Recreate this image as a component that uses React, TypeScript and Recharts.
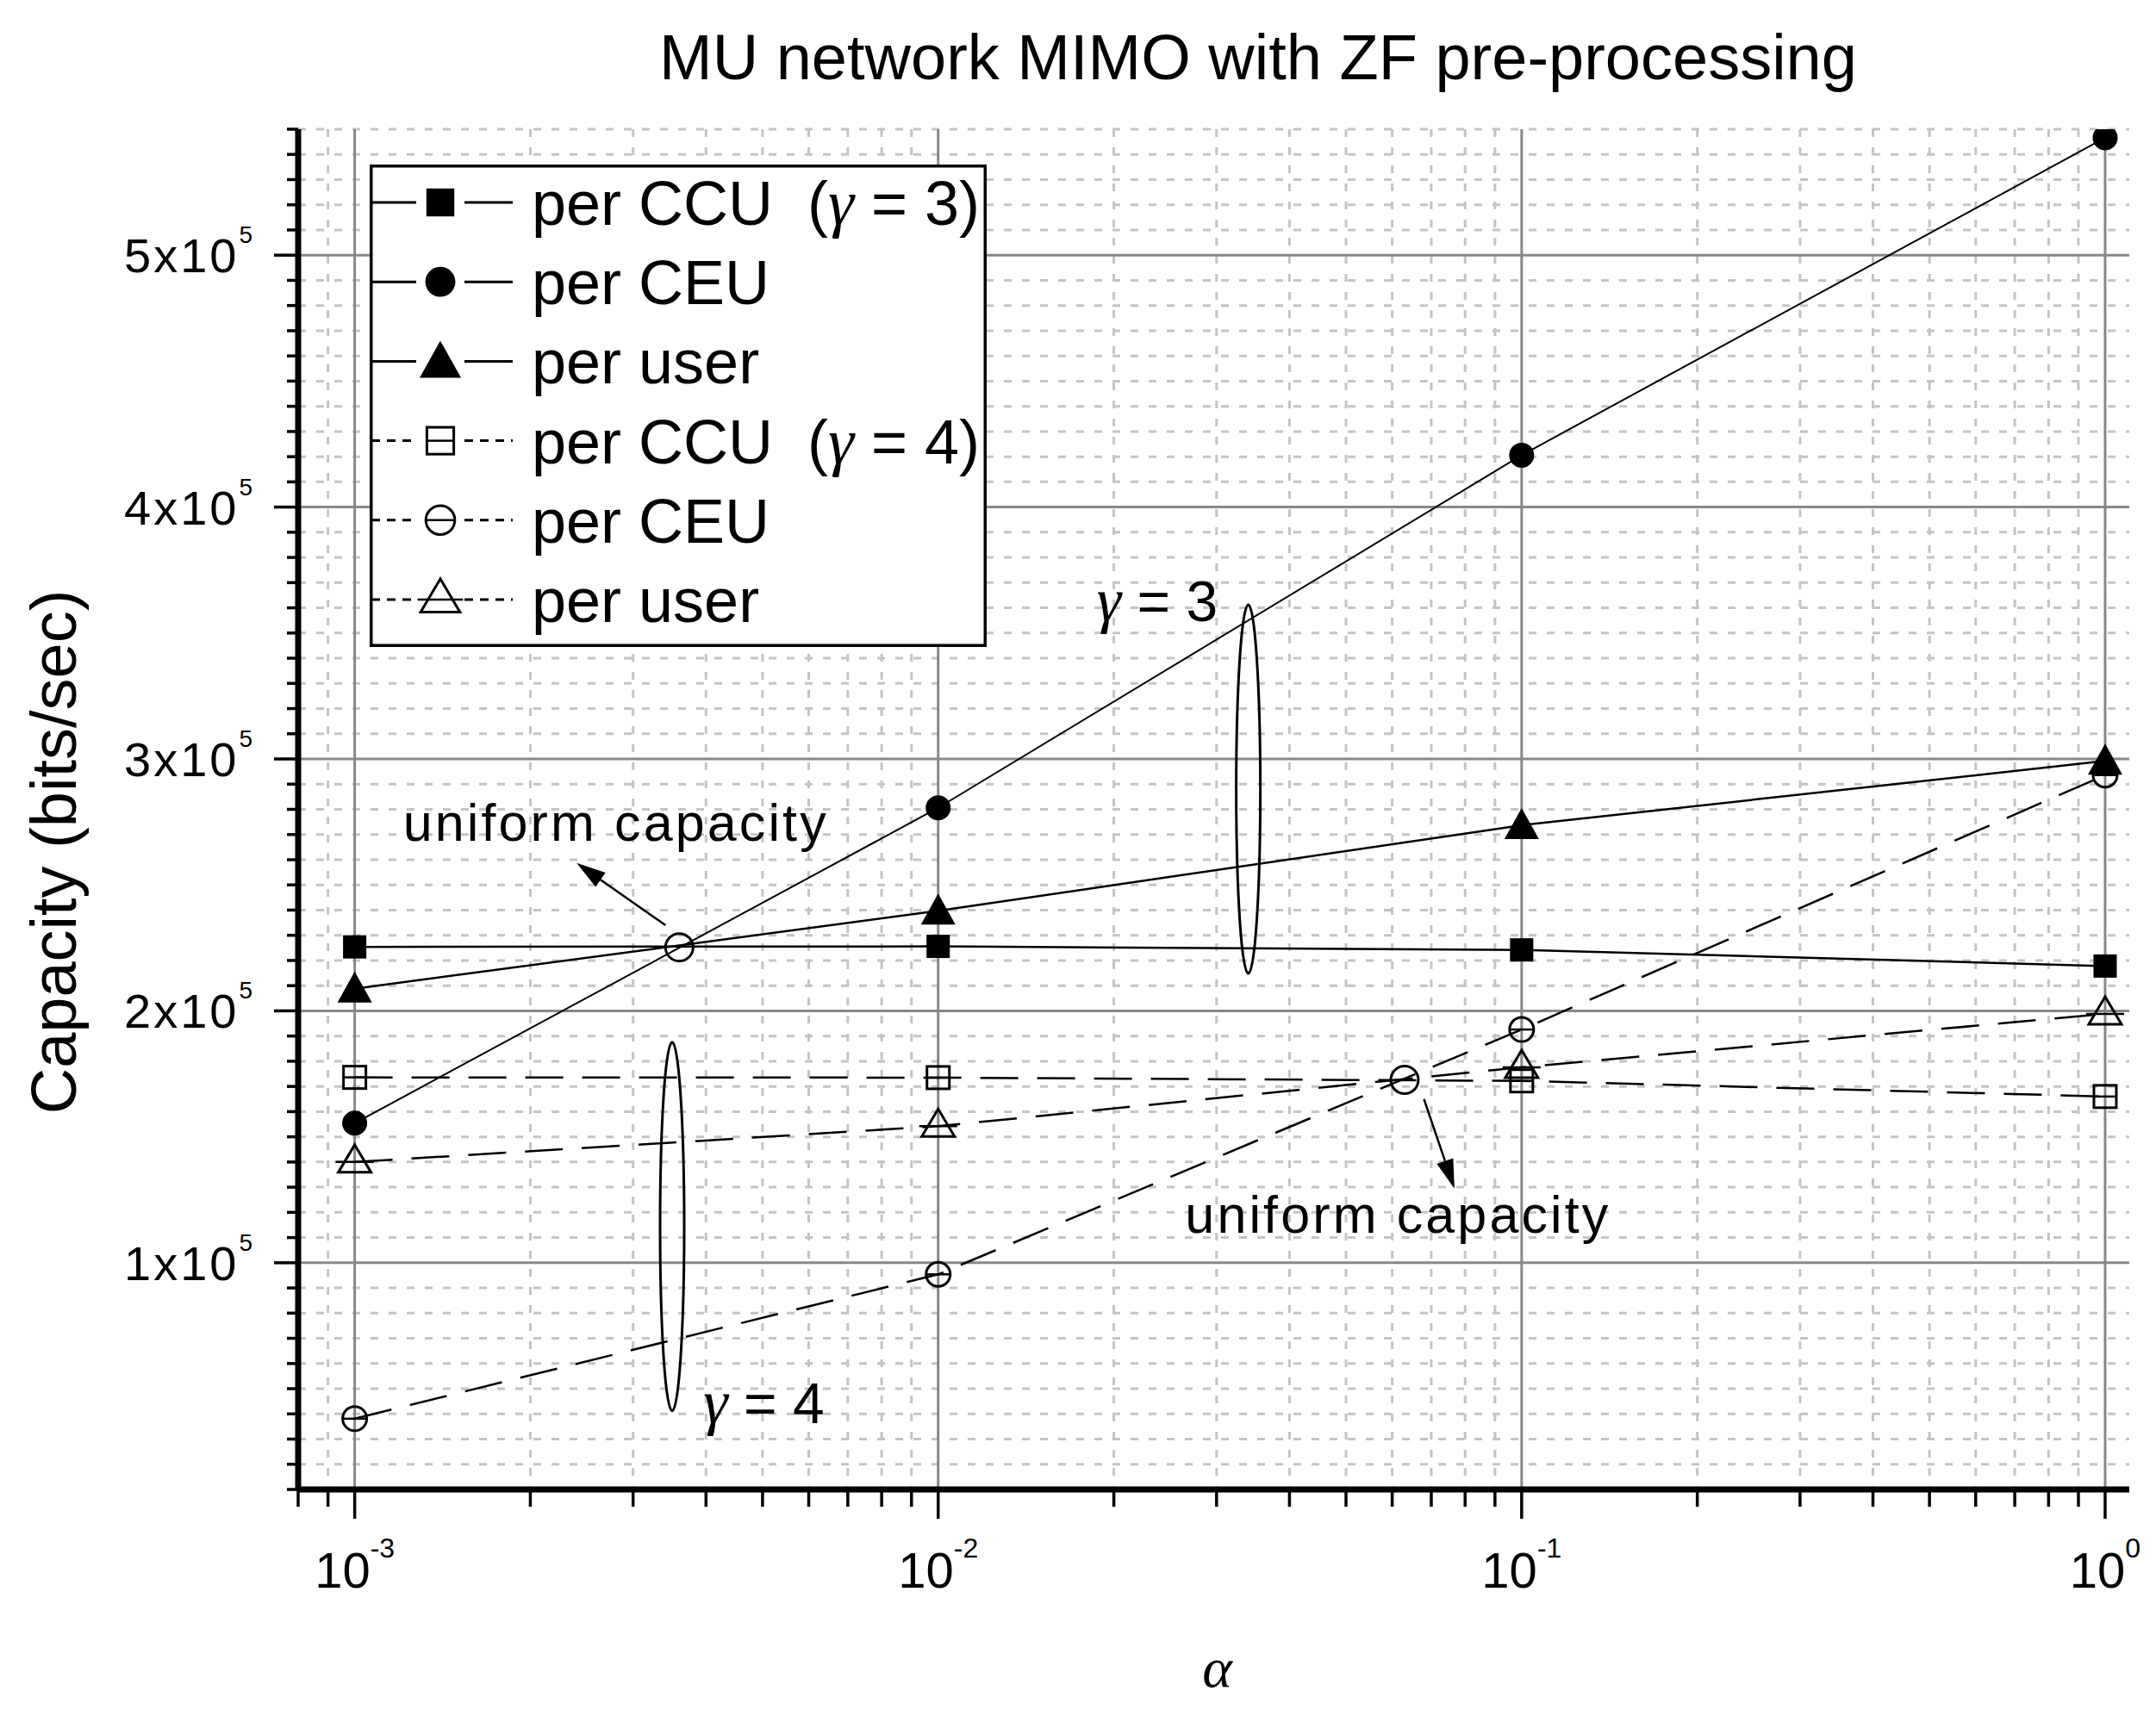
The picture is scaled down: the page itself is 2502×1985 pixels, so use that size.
import React from 'react';
import {
  LineChart,
  Line,
  XAxis,
  YAxis,
  CartesianGrid,
  ReferenceDot,
  ReferenceLine,
  Legend,
} from 'recharts';

// ---------------- data ----------------
const alpha = [0.001, 0.01, 0.1, 1];
const ccuG3 = [225400, 225600, 224200, 217800];
const ceuG3 = [155400, 280600, 420600, 546600];
const userG3 = [208800, 239700, 273700, 299200];
const ccuG4 = [173600, 173500, 172200, 166000];
const ceuG4 = [38100, 95400, 192600, 293600];
const userG4 = [140000, 154200, 177600, 198800];

const seriesKeys = ['ccu3', 'ceu3', 'user3', 'ccu4', 'ceu4', 'user4'];
const seriesValues = [ccuG3, ceuG3, userG3, ccuG4, ceuG4, userG4];
const seriesNames = ['per CCU', 'per CEU', 'per user', 'per CCU', 'per CEU', 'per user'];
const seriesGamma = ['3', '', '', '4', '', ''];
const seriesMarkers = ['sqF', 'cirF', 'triF', 'sqO', 'cirO', 'triO'];
const seriesDashed = [false, false, false, true, true, true];

// axis ticks
const majorX = [0.001, 0.01, 0.1, 1];
const majorXExp = ['-3', '-2', '-1', '0'];
const minorX = [
  0.0008, 0.0009,
  0.002, 0.003, 0.004, 0.005, 0.006, 0.007, 0.008, 0.009,
  0.02, 0.03, 0.04, 0.05, 0.06, 0.07, 0.08, 0.09,
  0.2, 0.3, 0.4, 0.5, 0.6, 0.7, 0.8, 0.9,
];
const minorXGrid = minorX.filter((v) => v > 0.00085);
const majorY = [100000, 200000, 300000, 400000, 500000];
const majorYMant = ['1', '2', '3', '4', '5'];
const allY = Array.from({ length: 55 }, (_, i) => (i + 1) * 10000);
const minorY = allY.filter((v) => !majorY.includes(v));

const xDomain = [0.0008, 1.1];
const yDomain = [10000, 550000];

const title = 'MU network MIMO with ZF pre-processing';

// annotations (data coordinates)
const uniformPoints = [
  { x: 0.0036, y: 225200 },
  { x: 0.063, y: 172600 },
];
const gammaEllipses = [
  { x: 0.034, y: 288000 },
  { x: 0.0035, y: 114400 },
];
const gammaLabels = [
  { x: 0.0187, y: 354800, g: '3' },
  { x: 0.00396, y: 36500, g: '4' },
];
const uniformLabels = [
  { x: 0.00121, y: 267400 },
  { x: 0.0265, y: 112000 },
];
const uniformArrows = [
  [{ x: 0.00341, y: 234000 }, { x: 0.0024, y: 258700 }],
  [{ x: 0.068, y: 165000 }, { x: 0.0767, y: 129400 }],
];

const data = alpha.map((a, i) => {
  const row: any = { x: a };
  seriesKeys.forEach((k, j) => {
    row[k] = seriesValues[j][i];
  });
  return row;
});

const SANS = '"Liberation Sans", Arial, Helvetica, sans-serif';
const SERIF = '"Liberation Serif", "Times New Roman", "DejaVu Serif", serif';

// ---------------- markers ----------------
function Marker({ kind, cx, cy, s = 1 }: { kind: string; cx: number; cy: number; s?: number }) {
  const sw = 3;
  switch (kind) {
    case 'sqF':
      return <rect x={cx - 13.5 * s} y={cy - 13.5 * s} width={27 * s} height={27 * s} fill="#000" />;
    case 'cirF':
      return <circle cx={cx} cy={cy} r={14.5 * s} fill="#000" />;
    case 'triF':
      return (
        <polygon
          points={`${cx},${cy - 20 * s} ${cx - 20 * s},${cy + 16 * s} ${cx + 20 * s},${cy + 16 * s}`}
          fill="#000"
        />
      );
    case 'sqO':
      return (
        <g>
          <rect x={cx - 13 * s} y={cy - 13 * s} width={26 * s} height={26 * s} fill="none" stroke="#000" strokeWidth={sw} />
          <line x1={cx - 13 * s} x2={cx + 13 * s} y1={cy} y2={cy} stroke="#000" strokeWidth={2.5} />
        </g>
      );
    case 'cirO':
      return (
        <g>
          <circle cx={cx} cy={cy} r={14 * s} fill="none" stroke="#000" strokeWidth={sw} />
          <line x1={cx - 14 * s} x2={cx + 14 * s} y1={cy} y2={cy} stroke="#000" strokeWidth={2.5} />
        </g>
      );
    case 'triO':
    default:
      return (
        <g>
          <polygon
            points={`${cx},${cy - 20 * s} ${cx - 19 * s},${cy + 12 * s} ${cx + 19 * s},${cy + 12 * s}`}
            fill="none"
            stroke="#000"
            strokeWidth={sw}
          />
          <line x1={cx - 22 * s} x2={cx + 22 * s} y1={cy} y2={cy} stroke="#000" strokeWidth={2.5} />
        </g>
      );
  }
}

// ---------------- ticks ----------------
const XTick = (props: any) => {
  const { x, y, payload } = props;
  const v = payload.value;
  const mi = majorX.findIndex((m) => Math.abs(m - v) / m < 1e-6);
  const isMajor = mi >= 0;
  return (
    <g>
      <line x1={x} x2={x} y1={y} y2={y + (isMajor ? 34 : 20)} stroke="#000" strokeWidth={3.5} />
      {isMajor && (
        <text x={x} y={y + 114} textAnchor="middle" fontFamily={SANS} fontSize={58} fill="#000">
          10
          <tspan fontSize={32} dy={-35}>
            {majorXExp[mi]}
          </tspan>
        </text>
      )}
    </g>
  );
};

const YTick = (props: any) => {
  const { x, y, payload } = props;
  const v = payload.value;
  const mi = majorY.indexOf(v);
  const isMajor = mi >= 0;
  return (
    <g>
      <line x1={x - (isMajor ? 28 : 13)} x2={x} y1={y} y2={y} stroke="#000" strokeWidth={3.5} />
      {isMajor && (
        <text x={x - 50} y={y + 20} textAnchor="end" fontFamily={SANS} fontSize={56} letterSpacing={3} fill="#000">
          {majorYMant[mi]}x10
          <tspan fontSize={28} dy={-34}>
            5
          </tspan>
        </text>
      )}
    </g>
  );
};

// ---------------- legend ----------------
const LegendBox = () => {
  const w = 716;
  const h = 560;
  return (
    <svg width={w} height={h} style={{ display: 'block', overflow: 'visible' }}>
      <rect x={1.75} y={1.75} width={w - 3.5} height={h - 3.5} fill="#fff" stroke="#000" strokeWidth={3.5} />
      {seriesNames.map((name, i) => {
        const cy = 44 + i * 92.2;
        const dash = seriesDashed[i] ? '10 8' : undefined;
        return (
          <g key={i}>
            <line x1={2} x2={54} y1={cy} y2={cy} stroke="#000" strokeWidth={3} strokeDasharray={dash} />
            <line x1={110} x2={166} y1={cy} y2={cy} stroke="#000" strokeWidth={3} strokeDasharray={dash} />
            <Marker kind={seriesMarkers[i]} cx={82} cy={cy} s={1.2} />
            <text x={188} y={cy + 26} fontFamily={SANS} fontSize={72} fill="#000">
              {name}
              {seriesGamma[i] && (
                <>
                  <tspan>{'\u00A0\u00A0('}</tspan>
                  <tspan fontFamily={SERIF} fontStyle="italic" fontSize={76}>
                    γ
                  </tspan>
                  <tspan>{`\u00A0= ${seriesGamma[i]})`}</tspan>
                </>
              )}
            </text>
          </g>
        );
      })}
    </svg>
  );
};

// ---------------- annotation shapes ----------------
const arrowShape = (p: any) => {
  const { x1, y1, x2, y2 } = p;
  const dx = x2 - x1;
  const dy = y2 - y1;
  const len = Math.sqrt(dx * dx + dy * dy) || 1;
  const ux = dx / len;
  const uy = dy / len;
  const hl = 34;
  const hw = 10;
  const bx = x2 - ux * hl;
  const by = y2 - uy * hl;
  return (
    <g>
      <line x1={x1} y1={y1} x2={bx} y2={by} stroke="#000" strokeWidth={2.5} />
      <polygon
        points={`${x2},${y2} ${bx - uy * hw},${by + ux * hw} ${bx + uy * hw},${by - ux * hw}`}
        fill="#000"
      />
    </g>
  );
};

export default function App() {
  return (
    <div style={{ position: 'absolute', left: 0, top: 0, width: 2502, height: 1985, background: '#fff' }}>
      <svg width={2502} height={130} style={{ position: 'absolute', left: 0, top: 0 }}>
        <text x={1460} y={92} textAnchor="middle" fontFamily={SANS} fontSize={74} fill="#000">
          {title}
        </text>
      </svg>
      <LineChart
        width={2502}
        height={1985}
        data={data}
        margin={{ top: 150, right: 31, bottom: 0, left: 0 }}
        style={{ position: 'absolute', left: 0, top: 0 }}
      >
        <CartesianGrid
          horizontalValues={minorY}
          verticalValues={minorXGrid}
          stroke="#c4c4c4"
          strokeWidth={3}
          strokeDasharray="9 12"
        />
        <CartesianGrid horizontalValues={majorY} verticalValues={majorX} stroke="#888888" strokeWidth={3} />
        <XAxis
          dataKey="x"
          type="number"
          scale="log"
          domain={xDomain}
          allowDataOverflow
          ticks={[...minorX, ...majorX].sort((a, b) => a - b)}
          interval={0}
          height={256}
          tickSize={0}
          tickMargin={0}
          tickLine={false}
          tick={<XTick />}
          axisLine={{ stroke: '#000', strokeWidth: 7 }}
          label={{
            content: (p: any) => {
              const vb = p.viewBox || {};
              return (
                <text
                  x={vb.x + vb.width / 2 + 4}
                  y={vb.y + 229}
                  textAnchor="middle"
                  fontFamily={SERIF}
                  fontStyle="italic"
                  fontSize={66}
                  fill="#000"
                >
                  α
                </text>
              );
            },
          }}
        />
        <YAxis
          type="number"
          domain={yDomain}
          allowDataOverflow
          ticks={allY}
          interval={0}
          width={346}
          tickSize={0}
          tickMargin={0}
          tickLine={false}
          tick={<YTick />}
          axisLine={{ stroke: '#000', strokeWidth: 7 }}
          label={{
            content: (p: any) => {
              const vb = p.viewBox || {};
              const cx = vb.x + 88;
              const cy = vb.y + 839;
              return (
                <text
                  transform={`translate(${cx},${cy}) rotate(-90)`}
                  textAnchor="middle"
                  fontFamily={SANS}
                  fontSize={74}
                  fill="#000"
                >
                  Capacity (bits/sec)
                </text>
              );
            },
          }}
        />
        {seriesKeys.map((k, i) => (
          <Line
            key={k}
            dataKey={k}
            type="linear"
            stroke="#000"
            strokeWidth={i === 1 ? 2 : 2.5}
            strokeDasharray={seriesDashed[i] ? '44 22' : undefined}
            isAnimationActive={false}
            activeDot={false}
            legendType="none"
            dot={(p: any) => <Marker key={`${k}-${p.index}`} kind={seriesMarkers[i]} cx={p.cx} cy={p.cy} />}
          />
        ))}
        {gammaEllipses.map((e, i) => (
          <ReferenceDot
            key={`ell-${i}`}
            x={e.x}
            y={e.y}
            shape={(p: any) => (
              <ellipse cx={p.cx} cy={p.cy} rx={14} ry={214} fill="none" stroke="#000" strokeWidth={3} />
            )}
          />
        ))}
        {uniformPoints.map((u, i) => (
          <ReferenceDot
            key={`uc-${i}`}
            x={u.x}
            y={u.y}
            shape={(p: any) => <circle cx={p.cx} cy={p.cy} r={16} fill="none" stroke="#000" strokeWidth={3} />}
          />
        ))}
        {uniformArrows.map((seg, i) => (
          <ReferenceLine key={`ar-${i}`} segment={seg} shape={arrowShape} />
        ))}
        {gammaLabels.map((g, i) => (
          <ReferenceDot
            key={`gl-${i}`}
            x={g.x}
            y={g.y}
            shape={(p: any) => (
              <text x={p.cx} y={p.cy} fontFamily={SANS} fontSize={66} fill="#000">
                <tspan fontFamily={SERIF} fontStyle="italic" fontSize={72}>
                  γ
                </tspan>
                <tspan>{`\u00A0= ${g.g}`}</tspan>
              </text>
            )}
          />
        ))}
        {uniformLabels.map((u, i) => (
          <ReferenceDot
            key={`ul-${i}`}
            x={u.x}
            y={u.y}
            shape={(p: any) => (
              <text
                x={p.cx}
                y={p.cy}
                fontFamily={SANS}
                fontSize={61}
                textLength={491}
                lengthAdjust="spacing"
                fill="#000"
              >
                uniform capacity
              </text>
            )}
          />
        ))}
        <Legend
          layout="vertical"
          align="center"
          verticalAlign="middle"
          content={() => <LegendBox />}
          wrapperStyle={{ left: 429, top: 191, width: 716, height: 560, right: 'auto', bottom: 'auto' }}
        />
      </LineChart>
    </div>
  );
}
